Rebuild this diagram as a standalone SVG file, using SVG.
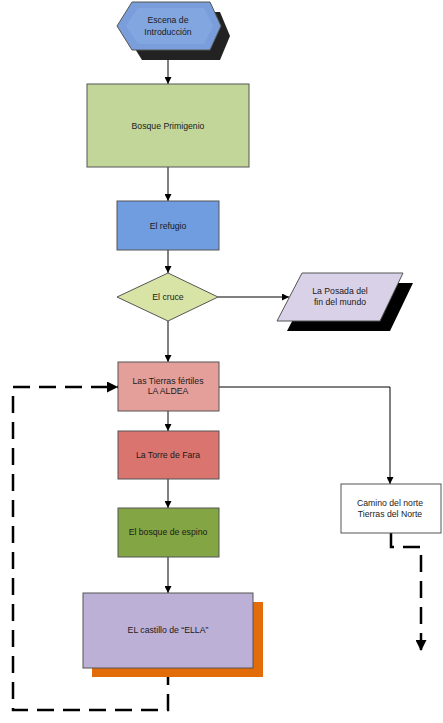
<svg xmlns="http://www.w3.org/2000/svg" width="443" height="723" viewBox="0 0 443 723">
<defs>
<marker id="arr" viewBox="0 0 10 10" refX="10" refY="5" markerWidth="7" markerHeight="7" markerUnits="userSpaceOnUse" orient="auto"><path d="M0,0 L10,5 L0,10 z" fill="#000"/></marker>
<marker id="arrBig" viewBox="0 0 10 10" refX="10" refY="5" markerWidth="11" markerHeight="11" markerUnits="userSpaceOnUse" orient="auto"><path d="M0,0 L10,5 L0,10 z" fill="#000"/></marker>
</defs>
<style>
.n{stroke:#555;stroke-width:1}
.t{font-family:"Liberation Sans",Arial,sans-serif;font-size:8.7px;fill:#1a1a1a;text-anchor:middle;dominant-baseline:central}
.c{fill:none;stroke:#000;stroke-width:1}
.d{fill:none;stroke:#000;stroke-width:2.5;stroke-dasharray:17 9}
</style>
<rect width="443" height="723" fill="#fff"/>
<g id="connectors">
<line class="c" x1="168" y1="60" x2="168" y2="84" marker-end="url(#arr)"/>
<line class="c" x1="168" y1="167" x2="168" y2="201" marker-end="url(#arr)"/>
<line class="c" x1="168" y1="250" x2="168" y2="273" marker-end="url(#arr)"/>
<line class="c" x1="218" y1="297" x2="289" y2="297" marker-end="url(#arr)"/>
<line class="c" x1="168" y1="321" x2="168" y2="362" marker-end="url(#arr)"/>
<polyline class="c" points="219,387 390,387 390,484" marker-end="url(#arr)"/>
<line class="c" x1="168" y1="411" x2="168" y2="431" marker-end="url(#arr)"/>
<line class="c" x1="168" y1="479" x2="168" y2="508" marker-end="url(#arr)"/>
<line class="c" x1="168" y1="557" x2="168" y2="593" marker-end="url(#arr)"/>
<polyline class="d" points="168,668 168,710 13,710 13,387 118,387" marker-end="url(#arrBig)"/>
<polyline class="d" points="391,533 391,547 421,547 421,651" marker-end="url(#arrBig)"/>
</g>
<g id="n-escena">
<polygon points="127,13 142,12 220,12 230,36 220,60 142,60 127,36" fill="#222"/>
<polygon class="n" points="117,26 132,2 210,2 221,26 210,50 132,50" fill="#7a9edb"/>
<polygon points="126,26 138,8 204,8 213,26 204,44 138,44" fill="#82a7e0"/>
<text class="t" x="168" y="20">Escena de</text>
<text class="t" x="168" y="32">Introducción</text>
</g>
<g id="n-bosque">
<rect class="n" x="87" y="84" width="162" height="83" fill="#c2d69a"/>
<text class="t" x="168" y="126">Bosque Primigenio</text>
</g>
<g id="n-refugio">
<rect class="n" x="117" y="201" width="102" height="49" fill="#6f9de0"/>
<text class="t" x="168" y="226">El refugio</text>
</g>
<g id="n-cruce">
<polygon class="n" points="117,297 168,273 218,297 168,321" fill="#d7e4a6"/>
<text class="t" x="168" y="297">El cruce</text>
</g>
<g id="n-posada">
<polygon points="312,283 413,283 390,331 287,331" fill="#000"/>
<polygon class="n" points="302,273 403,273 380,321 277,321" fill="#d9d1e8"/>
<text class="t" x="340" y="291">La Posada del</text>
<text class="t" x="340" y="302">fin del mundo</text>
</g>
<g id="n-tierras">
<rect class="n" x="118" y="362" width="101" height="49" fill="#e49f9b"/>
<text class="t" x="168" y="381">Las Tierras fértiles</text>
<text class="t" x="168" y="391">LA ALDEA</text>
</g>
<g id="n-torre">
<rect class="n" x="118" y="431" width="101" height="48" fill="#d9746e"/>
<text class="t" x="168" y="455">La Torre de Fara</text>
</g>
<g id="n-espino">
<rect class="n" x="118" y="508" width="101" height="49" fill="#84a544"/>
<text class="t" x="168" y="532">El bosque de espino</text>
</g>
<g id="n-castillo">
<rect x="92" y="602" width="171" height="75" fill="#e36c0a"/>
<rect class="n" x="83" y="593" width="170" height="75" fill="#bdb0d6"/>
<text class="t" x="168" y="630">EL castillo de “ELLA”</text>
</g>
<g id="n-camino">
<rect class="n" x="341" y="484" width="100" height="49" fill="#fff"/>
<text class="t" x="390" y="503">Camino del norte</text>
<text class="t" x="390" y="514">Tierras del Norte</text>
</g>
</svg>
